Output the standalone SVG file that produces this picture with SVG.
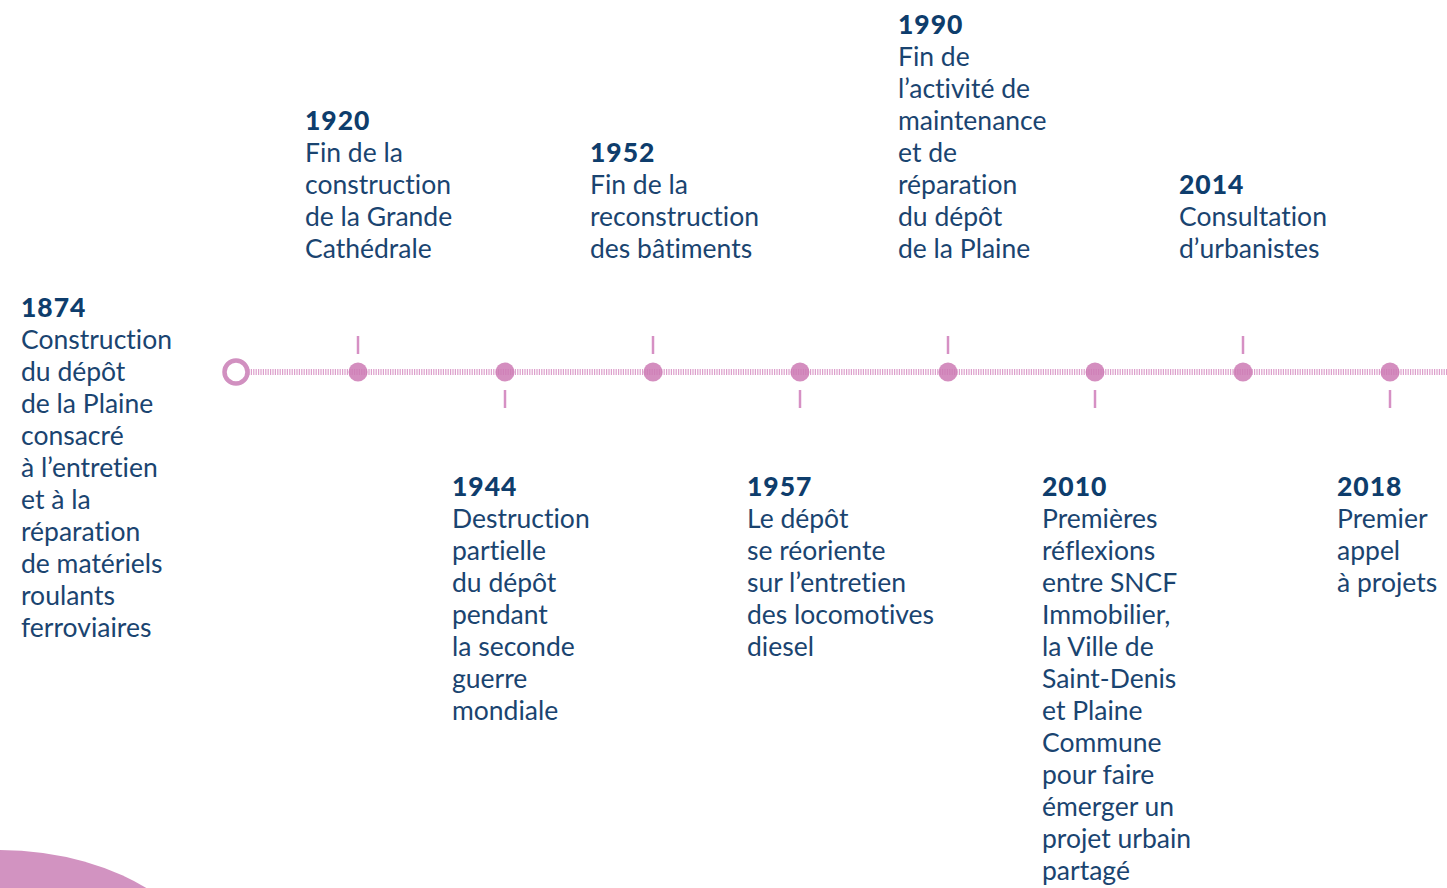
<svg xmlns="http://www.w3.org/2000/svg" width="1447" height="888" viewBox="0 0 1447 888">
<style>
text{font-family:"Lato","Noto Sans",sans-serif;font-size:26.5px;fill:#1a4470;font-variant-ligatures:none;}
.y{font-weight:900;fill:#0e3d6c;letter-spacing:1px;}
.dot{fill:#cc7ab4;fill-opacity:0.85;}
.tick{stroke:#d690c4;stroke-width:2.5;}
</style>
<rect width="1447" height="888" fill="#fff"/>
<ellipse cx="0" cy="1000" rx="220" ry="150" fill="#d293c1"/>
<g id="connectors">
<line x1="246" y1="372" x2="1447" y2="372" stroke="#dc9fcb" stroke-width="6" stroke-dasharray="1.2 1.2"/>
<line class="tick" x1="358" y1="336" x2="358" y2="354"/>
<line class="tick" x1="653" y1="336" x2="653" y2="354"/>
<line class="tick" x1="948" y1="336" x2="948" y2="354"/>
<line class="tick" x1="1243" y1="336" x2="1243" y2="354"/>
<line class="tick" x1="505" y1="390" x2="505" y2="408"/>
<line class="tick" x1="800" y1="390" x2="800" y2="408"/>
<line class="tick" x1="1095" y1="390" x2="1095" y2="408"/>
<line class="tick" x1="1390" y1="390" x2="1390" y2="408"/>
</g>
<g id="n1874">
<circle cx="236" cy="372" r="11.5" fill="#fff" stroke="#d190c0" stroke-width="4.5"/>
<text x="21" y="317"><tspan class="y">1874</tspan><tspan x="21" dy="32">Construction</tspan><tspan x="21" dy="32">du dépôt</tspan><tspan x="21" dy="32">de la Plaine</tspan><tspan x="21" dy="32">consacré</tspan><tspan x="21" dy="32">à l’entretien</tspan><tspan x="21" dy="32">et à la</tspan><tspan x="21" dy="32">réparation</tspan><tspan x="21" dy="32">de matériels</tspan><tspan x="21" dy="32">roulants</tspan><tspan x="21" dy="32">ferroviaires</tspan></text>
</g>
<g id="n1920">
<circle class="dot" cx="358" cy="372" r="9.5"/>
<text x="305" y="130"><tspan class="y">1920</tspan><tspan x="305" dy="32">Fin de la</tspan><tspan x="305" dy="32">construction</tspan><tspan x="305" dy="32">de la Grande</tspan><tspan x="305" dy="32">Cathédrale</tspan></text>
</g>
<g id="n1944">
<circle class="dot" cx="505" cy="372" r="9.5"/>
<text x="452" y="496"><tspan class="y">1944</tspan><tspan x="452" dy="32">Destruction</tspan><tspan x="452" dy="32">partielle</tspan><tspan x="452" dy="32">du dépôt</tspan><tspan x="452" dy="32">pendant</tspan><tspan x="452" dy="32">la seconde</tspan><tspan x="452" dy="32">guerre</tspan><tspan x="452" dy="32">mondiale</tspan></text>
</g>
<g id="n1952">
<circle class="dot" cx="653" cy="372" r="9.5"/>
<text x="590" y="162"><tspan class="y">1952</tspan><tspan x="590" dy="32">Fin de la</tspan><tspan x="590" dy="32">reconstruction</tspan><tspan x="590" dy="32">des bâtiments</tspan></text>
</g>
<g id="n1957">
<circle class="dot" cx="800" cy="372" r="9.5"/>
<text x="747" y="496"><tspan class="y">1957</tspan><tspan x="747" dy="32">Le dépôt</tspan><tspan x="747" dy="32">se réoriente</tspan><tspan x="747" dy="32">sur l’entretien</tspan><tspan x="747" dy="32">des locomotives</tspan><tspan x="747" dy="32">diesel</tspan></text>
</g>
<g id="n1990">
<circle class="dot" cx="948" cy="372" r="9.5"/>
<text x="898" y="34"><tspan class="y">1990</tspan><tspan x="898" dy="32">Fin de</tspan><tspan x="898" dy="32">l’activité de</tspan><tspan x="898" dy="32">maintenance</tspan><tspan x="898" dy="32">et de</tspan><tspan x="898" dy="32">réparation</tspan><tspan x="898" dy="32">du dépôt</tspan><tspan x="898" dy="32">de la Plaine</tspan></text>
</g>
<g id="n2010">
<circle class="dot" cx="1095" cy="372" r="9.5"/>
<text x="1042" y="496"><tspan class="y">2010</tspan><tspan x="1042" dy="32">Premières</tspan><tspan x="1042" dy="32">réflexions</tspan><tspan x="1042" dy="32">entre SNCF</tspan><tspan x="1042" dy="32">Immobilier,</tspan><tspan x="1042" dy="32">la Ville de</tspan><tspan x="1042" dy="32">Saint-Denis</tspan><tspan x="1042" dy="32">et Plaine</tspan><tspan x="1042" dy="32">Commune</tspan><tspan x="1042" dy="32">pour faire</tspan><tspan x="1042" dy="32">émerger un</tspan><tspan x="1042" dy="32">projet urbain</tspan><tspan x="1042" dy="32">partagé</tspan></text>
</g>
<g id="n2014">
<circle class="dot" cx="1243" cy="372" r="9.5"/>
<text x="1179" y="194"><tspan class="y">2014</tspan><tspan x="1179" dy="32">Consultation</tspan><tspan x="1179" dy="32">d’urbanistes</tspan></text>
</g>
<g id="n2018">
<circle class="dot" cx="1390" cy="372" r="9.5"/>
<text x="1337" y="496"><tspan class="y">2018</tspan><tspan x="1337" dy="32">Premier</tspan><tspan x="1337" dy="32">appel</tspan><tspan x="1337" dy="32">à projets</tspan></text>
</g>
</svg>
